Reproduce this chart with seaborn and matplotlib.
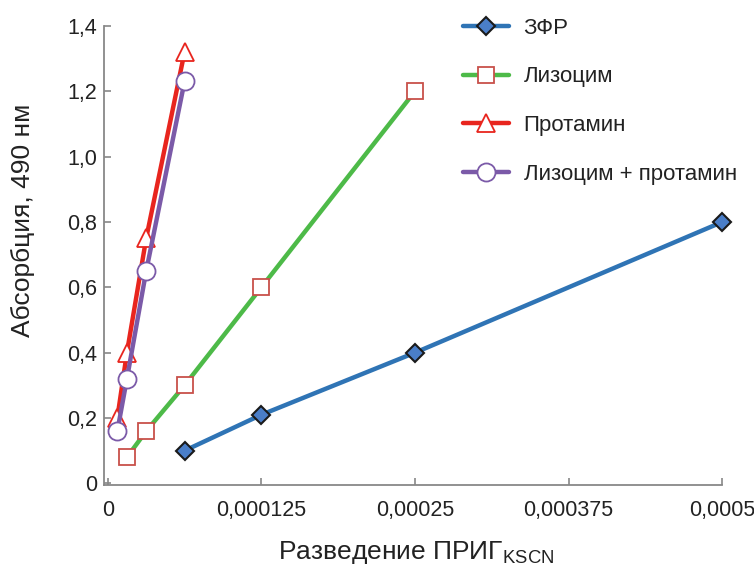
import matplotlib
matplotlib.use("Agg")
import matplotlib.pyplot as plt
import seaborn as sns
import pandas as pd

sns.set_theme(style="white")
plt.rcParams['font.family'] = ['Liberation Sans', 'DejaVu Sans']
plt.rcParams['mathtext.fontset'] = 'custom'
plt.rcParams['mathtext.rm'] = 'Liberation Sans'
plt.rcParams['mathtext.it'] = 'Liberation Sans'

# Data
series_names = ["ЗФР", "Лизоцим", "Протамин", "Лизоцим + протамин"]
x_zfr = [0.0000625, 0.000125, 0.00025, 0.0005]
y_zfr = [0.10, 0.21, 0.40, 0.80]
x_lys = [0.0000156, 0.0000313, 0.0000625, 0.000125, 0.00025]
y_lys = [0.08, 0.16, 0.30, 0.60, 1.20]
x_prot = [0.0000078, 0.0000156, 0.0000313, 0.0000625]
y_prot = [0.20, 0.40, 0.75, 1.32]
x_mix = [0.0000078, 0.0000156, 0.0000313, 0.0000625]
y_mix = [0.16, 0.32, 0.65, 1.23]

x_ticks = [0, 0.000125, 0.00025, 0.000375, 0.0005]
x_ticklabels = ["0", "0,000125", "0,00025", "0,000375", "0,0005"]
y_ticks = [0, 0.2, 0.4, 0.6, 0.8, 1.0, 1.2, 1.4]
y_ticklabels = ["0", "0,2", "0,4", "0,6", "0,8", "1,0", "1,2", "1,4"]

fig = plt.figure(figsize=(7.54, 5.74), dpi=100)
ax = fig.add_axes([0.138, 0.155, 0.820, 0.800])

styles = [
    dict(color="#2F74B5", marker="D", markersize=9, markerfacecolor="#4A7EC8",
         markeredgecolor="#1a1a1a", markeredgewidth=1.5),
    dict(color="#4DBA48", marker="s", markersize=12, markerfacecolor="white",
         markeredgecolor="#C8504A", markeredgewidth=1.3),
    dict(color="#E8251E", marker="^", markersize=13, markerfacecolor="white",
         markeredgecolor="#E8251E", markeredgewidth=1.3),
    dict(color="#7B5AA8", marker="o", markersize=13, markerfacecolor="white",
         markeredgecolor="#7B5AA8", markeredgewidth=1.3),
]
xs = [x_zfr, x_lys, x_prot, x_mix]
ys = [y_zfr, y_lys, y_prot, y_mix]

for name, x, y, st in zip(series_names, xs, ys, styles):
    df = pd.DataFrame({"x": x, "y": y})
    sns.lineplot(data=df, x="x", y="y", ax=ax, sort=False, estimator=None,
                 linewidth=3.2, label=name, clip_on=False, **st)

ax.set_xticks(x_ticks)
ax.set_xticklabels(x_ticklabels, fontsize=15.5, color="#222222")
ax.set_yticks(y_ticks)
ax.set_yticklabels(y_ticklabels, fontsize=15.5, color="#222222")
ax.tick_params(axis="both", direction="in", length=5, width=1.2, color="#888888",
               bottom=True, left=True)
ax.tick_params(axis="x", pad=11)
ax.tick_params(axis="y", pad=5)

for s in ["top", "right"]:
    ax.spines[s].set_visible(False)
for s in ["left", "bottom"]:
    ax.spines[s].set_color("#888888")
    ax.spines[s].set_linewidth(1.3)
ax.set_xlim(-0.000003, 0.0005)
ax.set_ylim(-0.005, 1.4)

ax.set_xlabel("Разведение ПРИГ$_{\\mathrm{KSCN}}$", fontsize=19, color="#222222")
ax.set_ylabel("Абсорбция, 490 нм", fontsize=19, color="#222222")
ax.xaxis.set_label_coords(0.505, -0.118)
ax.yaxis.set_label_coords(-0.112, 0.577)

leg = ax.legend(loc="upper left", bbox_to_anchor=(0.587, 1.004), bbox_transform=fig.transFigure,
                frameon=False, fontsize=16, labelspacing=1.25, handlelength=2.1,
                handletextpad=0.65)
for t in leg.get_texts():
    t.set_color("#222222")

fig.savefig("out.png", dpi=100)
